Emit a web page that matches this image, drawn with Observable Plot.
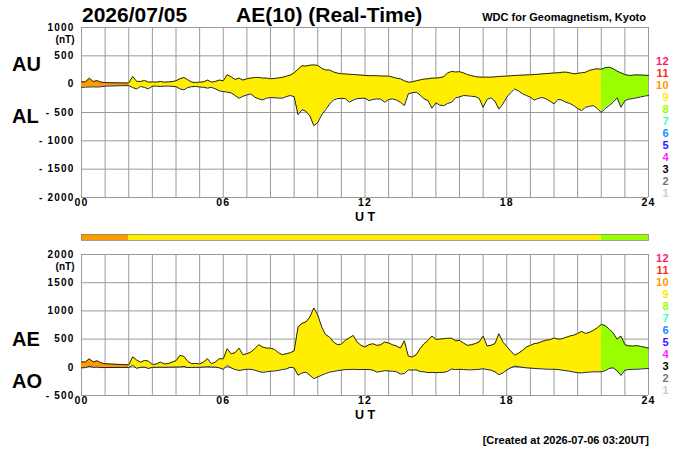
<!DOCTYPE html>
<html><head><meta charset="utf-8">
<script src="https://cdn.jsdelivr.net/npm/d3@7"></script>
<script src="https://cdn.jsdelivr.net/npm/@observablehq/plot@0.6"></script>
<style>
html,body{margin:0;padding:0;background:#fff;}
#wrap{position:relative;width:700px;height:450px;overflow:hidden;font-family:"Liberation Sans",Arial,Helvetica,sans-serif;font-weight:bold;color:#000;}
#wrap .abs{position:absolute;white-space:nowrap;line-height:1;}
#wrap svg{position:absolute;left:0;}
#wrap g[aria-label="y-axis tick label"] text,
#wrap g[aria-label="x-axis tick label"] text{letter-spacing:1.2px;}
.legend div{line-height:12px;height:12px;text-align:right;}
</style></head><body><div id="wrap"></div>
<script>
// ---- data (10-minute samples, 00:00 .. 24:00 UT) ----
const AU = [40,42,105,48,62,35,28,27,25,25,22,22,20,
  136,50,48,65,36,40,36,48,36,40,45,60,
  95,119,77,36,30,36,40,72,36,48,72,60,
  166,130,83,107,72,95,107,119,119,107,107,95,
  100,110,120,140,160,200,265,325,320,335,340,330,
  280,250,250,215,195,184,180,175,170,165,160,154,
  150,150,148,145,142,142,125,105,95,60,36,40,
  60,75,90,95,107,107,115,130,200,225,215,220,
  200,170,150,135,125,124,124,124,130,135,140,142,
  148,154,156,160,163,166,170,175,182,186,192,198,
  201,210,213,200,184,190,201,210,243,260,272,262,
  290,300,275,230,200,170,154,158,165,160,158,154];
const AL = [-55,-52,-50,-47,-50,-45,-35,-32,-32,-28,-28,-26,-25,
  -60,-85,-40,-58,-83,-35,-35,-40,-35,-33,-38,-45,
  -83,-100,-58,-45,-40,-50,-55,-70,-55,-83,-118,-130,
  -140,-154,-200,-248,-213,-190,-171,-230,-260,-278,-248,-236,
  -240,-245,-248,-220,-200,-220,-540,-450,-480,-560,-733,-680,
  -540,-450,-350,-280,-255,-250,-255,-319,-280,-255,-250,-248,
  -290,-270,-260,-265,-319,-270,-260,-280,-320,-378,-171,-150,
  -142,-190,-260,-290,-425,-330,-370,-378,-340,-319,-240,-225,
  -200,-205,-213,-220,-250,-408,-270,-240,-300,-440,-350,-230,
  -150,-85,-120,-170,-200,-230,-280,-250,-235,-260,-300,-349,
  -270,-280,-319,-340,-378,-430,-467,-408,-390,-378,-430,-500,
  -430,-378,-320,-240,-408,-290,-265,-255,-240,-225,-210,-200];
const AE = [93,95,150,95,115,78,63,60,56,52,50,48,42,
  185,130,90,122,110,50,58,93,60,65,93,116,
  211,194,105,63,70,58,93,152,63,93,152,150,
  330,240,258,340,223,240,270,329,401,359,340,340,
  317,260,223,240,258,290,714,780,803,892,1052,930,
  714,578,536,448,401,410,480,519,566,448,389,359,
  401,418,389,400,448,430,400,377,341,470,198,182,
  223,330,418,477,554,495,500,507,515,515,470,477,
  430,389,400,420,450,554,380,390,420,596,450,370,
  290,215,250,300,360,390,420,430,460,480,490,519,
  500,505,530,554,570,600,637,600,620,655,700,760,
  740,680,610,500,554,401,380,377,385,370,355,341];
const AO = [-10,-6,20,0,5,-5,-4,-3,-4,-2,-3,-2,-3,
  35,-18,0,3,-22,0,0,3,0,2,3,5,
  6,15,-5,0,0,0,5,10,5,3,-10,-35,
  30,-10,-40,-55,-45,-35,-35,-50,-73,-90,-80,-70,
  -65,-55,-40,-30,0,-10,-140,-100,-85,-140,-200,-170,
  -140,-110,-85,-75,-60,-50,-40,-40,-35,-40,-40,-38,
  -40,-50,-85,-75,-60,-65,-70,-80,-120,-110,-45,-50,
  -45,-75,-80,-95,-90,-95,-90,-90,-70,-30,-40,-35,
  -40,-45,-45,-40,-35,-25,-40,-50,-80,-132,-100,-45,
  -10,22,10,0,-10,-15,-20,-25,-28,-32,-35,-35,
  -40,-50,-60,-70,-85,-95,-100,-90,-85,-80,-80,-80,
  -60,-20,-10,-60,-144,-50,-40,-35,-35,-30,-25,-22];
const stepHours = 1/6;

// station-count segments (colour bar)
const segStart = [0, 2, 22];
const segEnd = [2, 22, 24];
const segCount = [10, 9, 8];

// station-count colour key
const keyCounts = [12,11,10,9,8,7,6,5,4,3,2,1];
const keyColors = ["#ff1a6e","#ff2a1a","#ff9900","#ffee00","#99ff00","#33ffcc","#2288ff","#3311ff","#ff22ff","#000000","#777777","#cccccc"];
const colorOf = c => keyColors[keyCounts.indexOf(c)];

const xTicks = [0, 6, 12, 18, 24];
const topYTicks = [-2000,-1500,-1000,-500,0,500,1000];
const botYTicks = [-500,0,500,1000,1500,2000];

const dateLabel = "2026/07/05";
const titleLabel = "AE(10) (Real-Time)";
const sourceLabel = "WDC for Geomagnetism, Kyoto";
const createdLabel = "[Created at 2026-07-06 03:20UT]";

// ---- build tables ----
const rows = AU.map((u, i) => ({t: i * stepHours, AU: u, AL: AL[i], AE: AE[i], AO: AO[i]}));
const segRows = [];
segStart.forEach((s, k) => {
  rows.filter(r => r.t >= s - 1e-9 && r.t <= segEnd[k] + 1e-9)
      .forEach(r => segRows.push({...r, seg: k, color: colorOf(segCount[k])}));
});
const segs = segStart.map((s, k) => ({start: s, end: segEnd[k], color: colorOf(segCount[k])}));

const FONT = '"Liberation Sans", Arial, Helvetica, sans-serif';
const fmtY = d => d < 0 ? "- " + Math.abs(d) : String(d);
const fmtX = d => String(d).padStart(2, "0");

function panel(hiKey, loKey, yDomain, yTicks, mt, mb) {
  return Plot.plot({
    width: 700, height: 225,
    marginLeft: 81, marginRight: 52, marginTop: mt, marginBottom: mb,
    x: {domain: [0, 24]},
    y: {domain: yDomain},
    color: {type: "identity"},
    style: {fontFamily: FONT, fontSize: "10px", fontWeight: "bold", background: "transparent", color: "#000", overflow: "visible"},
    marks: [
      Plot.gridX(d3.range(0, 25), {stroke: "#9a9a9a", strokeOpacity: 1}),
      Plot.gridY(d3.range(yDomain[0], yDomain[1] + 1, 500), {stroke: "#9a9a9a", strokeOpacity: 1}),
      Plot.areaY(segRows, {x: "t", y1: loKey, y2: hiKey, z: "seg", fill: "color"}),
      Plot.line(rows, {x: "t", y: hiKey, stroke: "#222", strokeWidth: 1}),
      Plot.line(rows, {x: "t", y: loKey, stroke: "#222", strokeWidth: 1}),
      Plot.axisY(yTicks, {tickSize: 0, tickPadding: 7, tickFormat: fmtY, label: null, fontSize: 10, fontWeight: "bold"}),
      Plot.axisX(xTicks, {tickSize: 0, tickPadding: 1.5, tickFormat: fmtX, label: null, fontSize: 10.5, fontWeight: "bold"}),
      Plot.text([yDomain[1]], {y: d => d, text: () => "(nT)", frameAnchor: "left", dx: -7, dy: 12, textAnchor: "end", fontSize: 10, fontWeight: "bold"}),
      Plot.text(["U T"], {frameAnchor: "bottom", dy: 23.5, fontSize: 12.5, fontWeight: "bold"})
    ]
  });
}

const wrap = document.getElementById("wrap");
const topPlot = panel("AU", "AL", [-2000, 1000], topYTicks, 27, 28);
topPlot.style.top = "0px";
wrap.appendChild(topPlot);

const bar = Plot.plot({
  width: 700, height: 14,
  marginLeft: 81, marginRight: 52, marginTop: 4, marginBottom: 4,
  x: {domain: [0, 24], axis: null},
  color: {type: "identity"},
  style: {background: "transparent", overflow: "visible"},
  marks: [
    Plot.rect(segs, {x1: "start", x2: "end", fill: "color"}),
    Plot.frame({stroke: "#8a8a6a", strokeWidth: 0.8})
  ]
});
bar.style.top = "230px";
wrap.appendChild(bar);

const botPlot = panel("AE", "AO", [-500, 2000], botYTicks, 29, 55);
botPlot.style.top = "225px";
wrap.appendChild(botPlot);

function addText(txt, css) {
  const d = document.createElement("div");
  d.className = "abs";
  d.textContent = txt;
  Object.assign(d.style, css);
  wrap.appendChild(d);
  return d;
}
addText(dateLabel, {left: "82px", top: "4px", fontSize: "21px"});
addText(titleLabel, {left: "236px", top: "4px", fontSize: "21px"});
addText(sourceLabel, {right: "54px", top: "11.5px", fontSize: "11px"});
addText("AU", {left: "12px", top: "53.5px", fontSize: "20px"});
addText("AL", {left: "12px", top: "106px", fontSize: "20px"});
addText("AE", {left: "12px", top: "329px", fontSize: "20px"});
addText("AO", {left: "12px", top: "371px", fontSize: "20px"});
addText(createdLabel, {right: "51px", top: "434.5px", fontSize: "11px"});

function addKey(topPx) {
  const box = document.createElement("div");
  box.className = "abs legend";
  Object.assign(box.style, {right: "31px", top: topPx + "px", fontSize: "11px", letterSpacing: "0.4px"});
  keyCounts.forEach((c, i) => {
    const r = document.createElement("div");
    r.textContent = c;
    r.style.color = keyColors[i];
    box.appendChild(r);
  });
  wrap.appendChild(box);
}
addKey(55);
addKey(252.3);
</script></body></html>
